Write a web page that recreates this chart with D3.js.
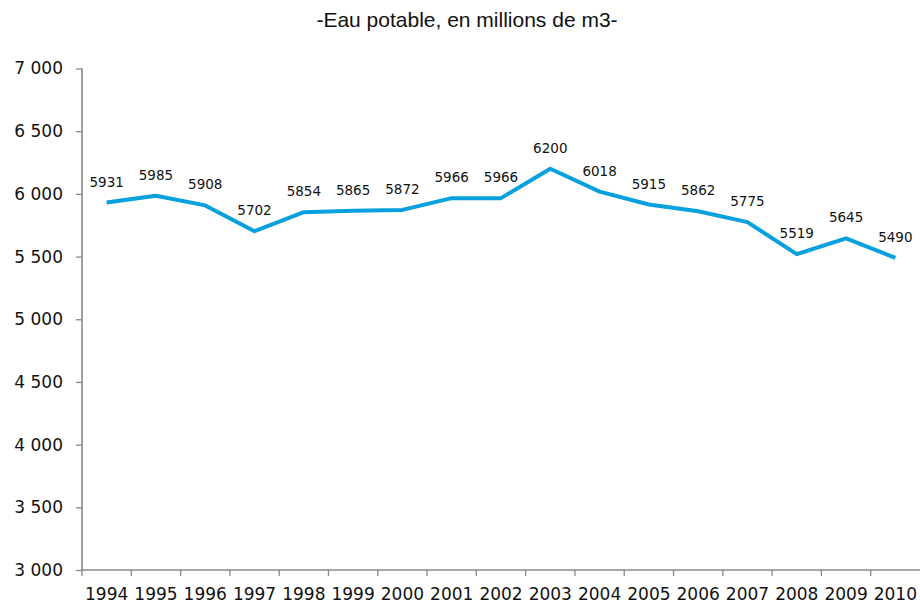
<!DOCTYPE html>
<html>
<head>
<meta charset="utf-8">
<script src="https://cdn.jsdelivr.net/npm/d3@7"></script>
<style>
body{margin:0;background:#fff;}
svg{display:block;}
</style>
</head>
<body>
<svg id="chart" width="920" height="606"></svg>
<script>
var years = ['1994','1995','1996','1997','1998','1999','2000','2001','2002','2003','2004','2005','2006','2007','2008','2009','2010'];
var volumes = [5931,5985,5908,5702,5854,5865,5872,5966,5966,6200,6018,5915,5862,5775,5519,5645,5490];
var yTicks = [3000,3500,4000,4500,5000,5500,6000,6500,7000];
var title = '-Eau potable, en millions de m3-';

var plotLeft = 82, plotRight = 920, plotTop = 68.5, plotBottom = 570;
var lineColour = '#05a0dd';
var axisColour = '#888888';

var svg = d3.select('#chart');
var fr = d3.formatLocale({decimal: ',', thousands: '\u00a0', grouping: [3], currency: ['', ' €']});

var x = d3.scaleBand().domain(years).range([plotLeft, plotRight]);
var y = d3.scaleLinear().domain([3000, 7000]).range([plotBottom, plotTop]);

svg.append('text')
    .attr('x', 467).attr('y', 27)
    .attr('text-anchor', 'middle')
    .style('font-family', 'Liberation Sans, Arial, sans-serif')
    .style('font-size', '21px')
    .attr('fill', '#111')
    .text(title);

// y axis
var yAxis = svg.append('g').attr('transform', 'translate(' + plotLeft + ',0)')
    .call(d3.axisLeft(y).tickValues(yTicks).tickSize(6).tickPadding(13).tickFormat(fr.format(',')));
yAxis.select('.domain').attr('stroke', axisColour).attr('stroke-width', 1.6).attr('d', 'M0,' + plotTop + 'V' + plotBottom);
yAxis.selectAll('.tick line').attr('stroke', axisColour).attr('stroke-width', 1.3);
yAxis.selectAll('.tick text')
    .style('font-family', 'DejaVu Sans, Verdana, sans-serif')
    .style('font-size', '17px')
    .attr('fill', '#111');

// x axis, ticks sit on the band edges
var xAxis = svg.append('g').attr('transform', 'translate(0,' + plotBottom + ')')
    .call(d3.axisBottom(x).tickSize(0).tickPadding(18));
xAxis.select('.domain').attr('stroke', axisColour).attr('stroke-width', 1.6).attr('d', 'M' + plotLeft + ',0H' + plotRight);
xAxis.selectAll('.tick text')
    .style('font-family', 'DejaVu Sans, Verdana, sans-serif')
    .style('font-size', '17px')
    .attr('fill', '#111');
xAxis.selectAll('line.edge').data(years).enter().append('line')
    .attr('class', 'edge')
    .attr('x1', function(d){return x(d);}).attr('x2', function(d){return x(d);})
    .attr('y1', 0).attr('y2', 6)
    .attr('stroke', axisColour).attr('stroke-width', 1.3);

var cx = function(d, i){return x(years[i]) + x.bandwidth() / 2;};

svg.append('path')
    .datum(volumes)
    .attr('fill', 'none')
    .attr('stroke', lineColour)
    .attr('stroke-width', 4)
    .attr('stroke-linejoin', 'round')
    .attr('d', d3.line().x(cx).y(function(d){return y(d);}));

svg.selectAll('text.val').data(volumes).enter().append('text')
    .attr('class', 'val')
    .attr('x', cx)
    .attr('y', function(d){return y(d) - 16;})
    .attr('text-anchor', 'middle')
    .style('font-family', 'DejaVu Sans, Verdana, sans-serif')
    .style('font-size', '13.5px')
    .attr('fill', '#111')
    .text(function(d){return d;});
</script>
</body>
</html>
